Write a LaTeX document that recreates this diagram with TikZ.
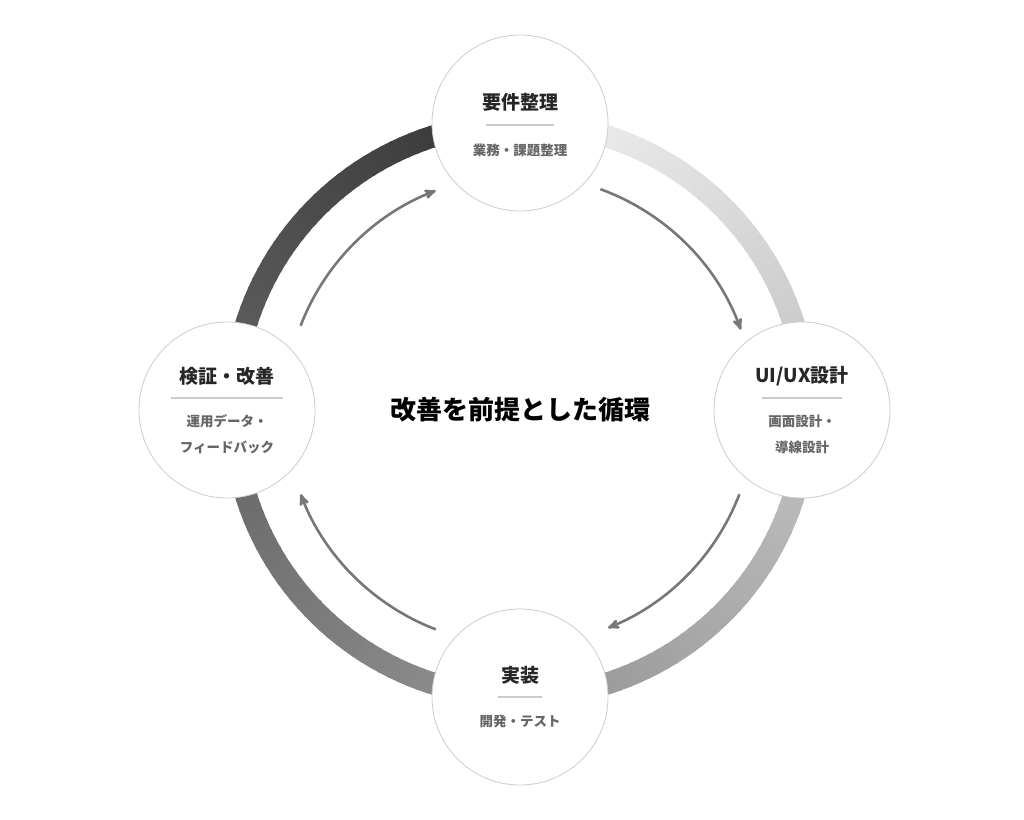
\documentclass[tikz,border=0pt]{standalone}
\usepackage{fontspec}
\setmainfont{Noto Sans CJK JP}
\usetikzlibrary{arrows,calc}
\definecolor{ringdark}{HTML}{333333}
\definecolor{ringlight}{HTML}{F2F2F2}
\definecolor{flowgray}{HTML}{777777}
\definecolor{subgray}{HTML}{666666}
\definecolor{rimgray}{HTML}{CCCCCC}
\tikzset{
  phase/.style={circle,draw=rimgray,line width=0.8pt,fill=white,minimum size=176pt,inner sep=0pt},
  head/.style={font=\bfseries\fontsize{19}{22}\selectfont,text=black!85},
  sub/.style={font=\bfseries\fontsize{13.5}{26}\selectfont,text=subgray,align=center},
  rule/.style={draw=rimgray,line width=2pt},
  flow/.style={->,>=stealth',draw=flowgray,line width=2.6pt}
}
\begin{document}
\begin{tikzpicture}[x=1pt,y=1pt]
  \useasboundingbox (0,0) rectangle (1024,819);
  \coordinate (c) at (520,409);

  % gradient ring
  \foreach \a in {0,2,...,358}{
    \pgfmathsetmacro\p{\a/3.6}
    \draw[line width=22pt,draw=ringdark!\p!ringlight]
      ($(c)+({90-\a}:287)$) arc[start angle={90-\a},end angle={90-\a-2.5},radius=287];
  }

  % inner arrows
  \draw[flow] ($(c)+(70:235)$) arc[start angle=70,end angle=20,radius=235];
  \draw[flow] ($(c)+(-21:235)$) arc[start angle=-21,end angle=-68,radius=235];
  \draw[flow] ($(c)+(-111:235)$) arc[start angle=-111,end angle=-159,radius=235];
  \draw[flow] ($(c)+(159:235)$) arc[start angle=159,end angle=111,radius=235];

  \node[phase] (req)  at ($(c)+(0,287)$)  {};
  \node[phase] (ux)   at ($(c)+(282,0)$)  {};
  \node[phase] (impl) at ($(c)+(0,-287)$) {};
  \node[phase] (rev)  at ($(c)+(-293,0)$) {};

  \node[head] (reqh) at ($(req)+(0,21)$) {要件整理};
  \draw[rule] ($(req)+(-34,-2)$) -- ($(req)+(34,-2)$);
  \node[sub] (reqs) at ($(req)+(0,-27)$) {業務・課題整理};

  \node[head] (uxh) at ($(ux)+(0,34)$) {UI/UX設計};
  \draw[rule] ($(ux)+(-40,12)$) -- ($(ux)+(40,12)$);
  \node[sub] (uxs) at ($(ux)+(0,-24)$) {画面設計・\\導線設計};

  \node[head] (implh) at ($(impl)+(0,22)$) {実装};
  \draw[rule] ($(impl)+(-22,0)$) -- ($(impl)+(22,0)$);
  \node[sub] (impls) at ($(impl)+(0,-24)$) {開発・テスト};

  \node[head] (revh) at ($(rev)+(0,34)$) {検証・改善};
  \draw[rule] ($(rev)+(-56,12)$) -- ($(rev)+(56,12)$);
  \node[sub] (revs) at ($(rev)+(0,-24)$) {運用データ・\\フィードバック};

  \node[font=\bfseries\fontsize{26}{30}\selectfont] (title) at (c) {改善を前提とした循環};
\end{tikzpicture}
\end{document}
